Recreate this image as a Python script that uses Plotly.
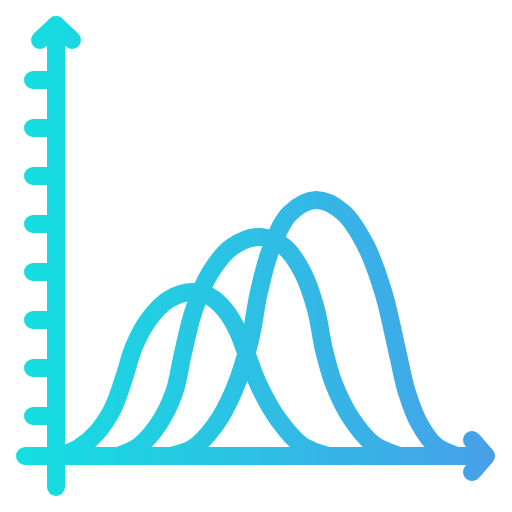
import plotly.graph_objects as go

# Axes and tick marks
axis_x = [56, 56]
axis_y = [25, 487]
base_x = [25, 480]
base_y = [456, 456]
tick_rows = [80, 128, 176, 224, 272, 320, 368, 416]
tick_start = 33
tick_end = 56
up_head_x = [40, 56, 72]
up_head_y = [40, 25, 40]
right_head_x = [472, 486, 472]
right_head_y = [440, 456, 472]

# The three humps
small_x = [60, 78.8, 96.9, 112.5, 124, 134, 149.2, 168.8, 193, 210.5, 225.3, 237.5, 247, 259.3, 278.2, 301.8, 328]
small_y = [456, 448, 432.5, 409.2, 378, 346.5, 318.9, 299.4, 292, 296.9, 310.4, 330.5, 355, 386.4, 419.4, 445.4, 456]
mid_x = [118, 138.9, 158.4, 174.1, 183, 193.8, 210, 231.9, 260, 284.5, 302.9, 315.9, 324, 333.9, 350.8, 373.3, 400]
mid_y = [456, 446.2, 424.4, 392.6, 353, 310.4, 273, 247, 237, 247, 272.9, 309.2, 350, 383.9, 417.7, 444.1, 456]
big_x = [170, 192.6, 214.5, 234.2, 250, 258.8, 271.4, 289.8, 316, 343, 365.5, 383.5, 397, 406.5, 419, 436, 457]
big_y = [456, 448.4, 426, 389.7, 340, 292.7, 247.5, 213.5, 200, 212.3, 245, 292.8, 350, 391, 423, 446, 456]

START_COLOR = "#14DFE0"
END_COLOR = "#479FE9"
MID_COLOR = "#2DC0E4"
WIDTH = 18

fig = go.Figure()


def stroke(x, y, shape="linear"):
    fig.add_trace(go.Scatter(
        x=x, y=y, mode="lines", hoverinfo="skip", showlegend=False,
        line=dict(color=MID_COLOR, width=WIDTH, shape=shape, smoothing=1.0 if shape == "spline" else None),
    ))


stroke(axis_x, axis_y)
stroke(base_x, base_y)
for row in tick_rows:
    stroke([tick_start, tick_end], [row, row])
stroke(up_head_x, up_head_y)
stroke(right_head_x, right_head_y)
stroke(small_x, small_y, "spline")
stroke(mid_x, mid_y, "spline")
stroke(big_x, big_y, "spline")

fig.update_layout(
    width=512, height=512, margin=dict(l=0, r=0, t=0, b=0),
    paper_bgcolor="white", plot_bgcolor="white", showlegend=False,
    xaxis=dict(range=[0, 512], visible=False, fixedrange=True),
    yaxis=dict(range=[512, 0], visible=False, fixedrange=True),
)

post = """
document.body.style.margin = '0';
var gd = document.getElementById('{plot_id}');
function paint() {
  var svg = gd.querySelector('svg.main-svg');
  if (!svg) return;
  var ns = 'http://www.w3.org/2000/svg';
  if (!document.getElementById('hue')) {
    var defs = document.createElementNS(ns, 'defs');
    var g = document.createElementNS(ns, 'linearGradient');
    g.setAttribute('id', 'hue');
    g.setAttribute('gradientUnits', 'userSpaceOnUse');
    g.setAttribute('x1', '20'); g.setAttribute('y1', '0');
    g.setAttribute('x2', '495'); g.setAttribute('y2', '0');
    [['0', '%s'], ['1', '%s']].forEach(function (s) {
      var st = document.createElementNS(ns, 'stop');
      st.setAttribute('offset', s[0]); st.setAttribute('stop-color', s[1]);
      g.appendChild(st);
    });
    defs.appendChild(g); svg.insertBefore(defs, svg.firstChild);
  }
  gd.querySelectorAll('.scatterlayer .js-line').forEach(function (p) {
    p.style.stroke = 'url(#hue)';
    p.style.strokeLinecap = 'round';
    p.style.strokeLinejoin = 'round';
  });
}
paint();
gd.on('plotly_afterplot', paint);
setTimeout(paint, 50);
""" % (START_COLOR, END_COLOR)

fig.write_html("out.html", post_script=post, config={"displayModeBar": False})
